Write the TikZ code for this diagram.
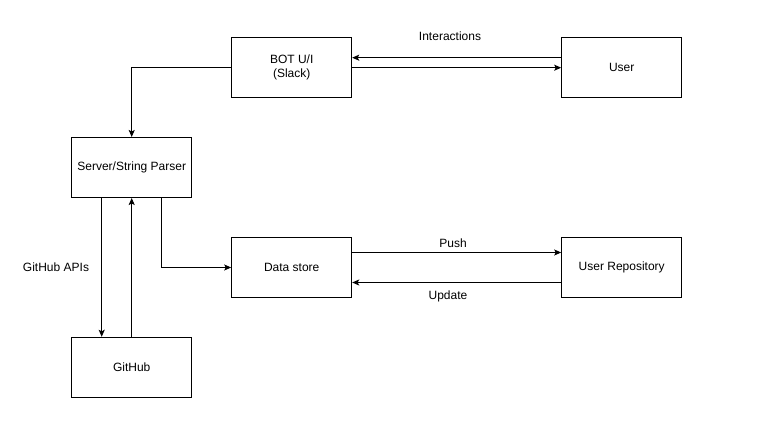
\documentclass[tikz,border=0pt]{standalone}
\usepackage{fontspec}
\setmainfont{Liberation Sans}
\usepackage{tikz}
\usetikzlibrary{arrows.meta}

\begin{document}
\begin{tikzpicture}[x=1pt,y=-1pt,
		box/.style={draw,line width=1pt,minimum width=120pt,minimum height=60pt,align=center,font=\fontsize{12}{14}\selectfont},
		lbl/.style={font=\fontsize{12}{14}\selectfont},
		link/.style={line width=1pt,-{Stealth[length=7pt,width=6pt,inset=1.5pt]}}]
	\useasboundingbox (0,0) rectangle (762,443);
	
	% Caixas
	\node[box] (bot) at (291.7,67.7) {BOT U/I\\(Slack)};
	\node[box] (user) at (621.7,67.7) {User};
	\node[box] (server) at (131.7,167.5) {Server/String Parser};
	\node[box] (data) at (291.7,267.5) {Data store};
	\node[box] (repo) at (621.7,267.5) {User Repository};
	\node[box] (github) at (131.7,367.3) {GitHub};
	
	% Interacoes com o usuario
	\draw[link] ([yshift=10pt]user.west) -- ([yshift=10pt]bot.east);
	\draw[link] (bot.east) -- (user.west);
	\node[lbl] (interactions) at (450,36.7) {Interactions};
	
	% Bot para o servidor
	\draw[link] (bot.west) -| (server.north);
	
	% Servidor e GitHub
	\draw[link] ([xshift=-30pt]server.south) -- ([xshift=-30pt]github.north);
	\draw[link] (github.north) -- (server.south);
	\node[lbl] (apis) at (56,267) {GitHub APIs};
	
	% Servidor para o armazenamento
	\draw[link] ([xshift=30pt]server.south) |- (data.west);
	
	% Armazenamento e repositorio
	\draw[link] ([yshift=15pt]data.east) -- ([yshift=15pt]repo.west);
	\draw[link] ([yshift=-15pt]repo.west) -- ([yshift=-15pt]data.east);
	\node[lbl] (push) at (453,243.3) {Push};
	\node[lbl] (update) at (448,296.7) {Update};
\end{tikzpicture}
\end{document}
